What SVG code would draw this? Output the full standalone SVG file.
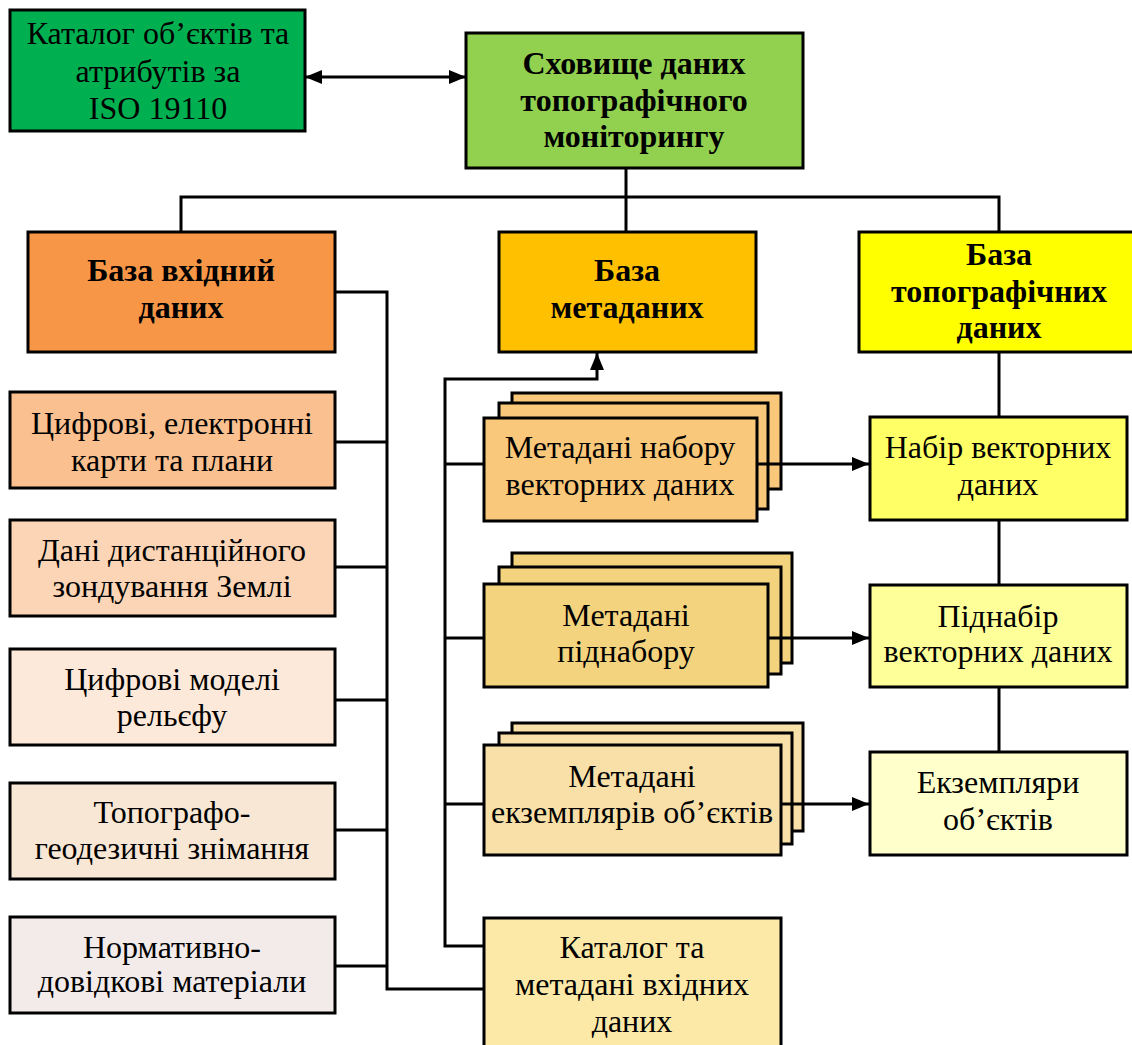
<svg xmlns="http://www.w3.org/2000/svg" width="1132" height="1045" viewBox="0 0 1132 1045">
<style>
.box{stroke:#000;stroke-width:3}
.t{font-family:"Liberation Serif","Times New Roman",serif;font-size:32px;fill:#000;text-anchor:middle}
.b{font-weight:bold}
.c{fill:none;stroke:#000;stroke-width:3}
</style>
<defs>
<marker id="ah" markerUnits="userSpaceOnUse" markerWidth="17" markerHeight="14" refX="17" refY="7" orient="auto-start-reverse">
<path d="M0,0 L17,7 L0,14 z" fill="#000"/>
</marker>
</defs>
<rect width="1132" height="1045" fill="#fff"/>

<g id="catalog-iso">
<rect class="box" x="10" y="10" width="295" height="121" fill="#00b050"/>
<text class="t" x="158" y="44">Каталог об’єктів та</text>
<text class="t" x="158" y="82">атрибутів за</text>
<text class="t" x="158" y="119">ISO 19110</text>
</g>

<g id="storage">
<rect class="box" x="466" y="33" width="337" height="135" fill="#92d050"/>
<text class="t b" x="634" y="74">Сховище даних</text>
<text class="t b" x="634" y="111">топографічного</text>
<text class="t b" x="634" y="147">моніторингу</text>
</g>

<g id="input-base">
<rect class="box" x="28" y="232" width="307" height="120" fill="#f79646"/>
<text class="t b" x="181" y="281">База вхідний</text>
<text class="t b" x="181" y="318">даних</text>
</g>

<g id="meta-base">
<rect class="box" x="499" y="232" width="257" height="120" fill="#ffc000"/>
<text class="t b" x="627" y="281">База</text>
<text class="t b" x="627" y="318">метаданих</text>
</g>

<g id="topo-base">
<rect class="box" x="859" y="232" width="290" height="120" fill="#ffff00"/>
<text class="t b" x="999" y="265">База</text>
<text class="t b" x="999" y="302">топографічних</text>
<text class="t b" x="999" y="338">даних</text>
</g>

<g id="digital-maps">
<rect class="box" x="10" y="392" width="325" height="96" fill="#fac090"/>
<text class="t" x="172" y="434">Цифрові, електронні</text>
<text class="t" x="172" y="471">карти та плани</text>
</g>
<g id="remote-sensing">
<rect class="box" x="10" y="520" width="325" height="96" fill="#fbd5b5"/>
<text class="t" x="172" y="561">Дані дистанційного</text>
<text class="t" x="172" y="597">зондування Землі</text>
</g>
<g id="dem">
<rect class="box" x="10" y="649" width="325" height="96" fill="#fde9d9"/>
<text class="t" x="172" y="690">Цифрові моделі</text>
<text class="t" x="172" y="726">рельєфу</text>
</g>
<g id="surveys">
<rect class="box" x="10" y="783" width="325" height="96" fill="#f8e7d5"/>
<text class="t" x="172" y="823">Топографо-</text>
<text class="t" x="172" y="859">геодезичні знімання</text>
</g>
<g id="reference">
<rect class="box" x="10" y="917" width="325" height="96" fill="#f3ebe9"/>
<text class="t" x="172" y="958">Нормативно-</text>
<text class="t" x="172" y="992">довідкові матеріали</text>
</g>

<g id="meta-dataset">
<rect class="box" x="512" y="393" width="269" height="96" fill="#f9c87a"/>
<rect class="box" x="499" y="403" width="269" height="106" fill="#f9c87a"/>
<rect class="box" x="484" y="418" width="273" height="103" fill="#f9c87a"/>
<text class="t" x="620" y="458">Метадані набору</text>
<text class="t" x="620" y="495">векторних даних</text>
</g>
<g id="meta-subset">
<rect class="box" x="512" y="553" width="280" height="110" fill="#f3d37d"/>
<rect class="box" x="499" y="567" width="282" height="107" fill="#f3d37d"/>
<rect class="box" x="484" y="584" width="284" height="103" fill="#f3d37d"/>
<text class="t" x="626" y="626">Метадані</text>
<text class="t" x="626" y="662">піднабору</text>
</g>
<g id="meta-instances">
<rect class="box" x="512" y="723" width="291" height="108" fill="#f8e0a8"/>
<rect class="box" x="499" y="733" width="293" height="111" fill="#f8e0a8"/>
<rect class="box" x="484" y="745" width="297" height="110" fill="#f8e0a8"/>
<text class="t" x="632" y="787">Метадані</text>
<text class="t" x="632" y="823">екземплярів об’єктів</text>
</g>
<g id="input-catalog">
<rect class="box" x="484" y="918" width="297" height="140" fill="#fce9a8"/>
<text class="t" x="632" y="958">Каталог та</text>
<text class="t" x="632" y="995">метадані вхідних</text>
<text class="t" x="632" y="1032">даних</text>
</g>

<g id="vector-dataset">
<rect class="box" x="870" y="417" width="257" height="103" fill="#ffff66"/>
<text class="t" x="998" y="458">Набір векторних</text>
<text class="t" x="998" y="495">даних</text>
</g>
<g id="vector-subset">
<rect class="box" x="870" y="585" width="257" height="102" fill="#ffff99"/>
<text class="t" x="998" y="627">Піднабір</text>
<text class="t" x="998" y="662">векторних даних</text>
</g>
<g id="instances">
<rect class="box" x="870" y="752" width="257" height="103" fill="#ffffcc"/>
<text class="t" x="998" y="793">Екземпляри</text>
<text class="t" x="998" y="830">об’єктів</text>
</g>

<g id="connectors">
<line class="c" x1="305" y1="77" x2="466" y2="77" marker-start="url(#ah)" marker-end="url(#ah)"/>
<polyline class="c" points="626,168 626,197"/>
<polyline class="c" points="181,232 181,197 999,197 999,232"/>
<line class="c" x1="626" y1="197" x2="626" y2="232"/>
<polyline class="c" points="335,292 387,292 387,989 484,989"/>
<line class="c" x1="335" y1="442" x2="387" y2="442"/>
<line class="c" x1="335" y1="567" x2="387" y2="567"/>
<line class="c" x1="335" y1="700" x2="387" y2="700"/>
<line class="c" x1="335" y1="830" x2="387" y2="830"/>
<line class="c" x1="335" y1="966" x2="387" y2="966"/>
<polyline class="c" points="484,946 445,946 445,379 597,379 597,353" marker-end="url(#ah)"/>
<line class="c" x1="445" y1="464" x2="484" y2="464"/>
<line class="c" x1="445" y1="638" x2="484" y2="638"/>
<line class="c" x1="445" y1="804" x2="484" y2="804"/>
<line class="c" x1="757" y1="464" x2="869" y2="464" marker-end="url(#ah)"/>
<line class="c" x1="768" y1="638" x2="869" y2="638" marker-end="url(#ah)"/>
<line class="c" x1="781" y1="804" x2="869" y2="804" marker-end="url(#ah)"/>
<line class="c" x1="999" y1="352" x2="999" y2="417"/>
<line class="c" x1="999" y1="520" x2="999" y2="585"/>
<line class="c" x1="999" y1="687" x2="999" y2="752"/>
</g>
</svg>
